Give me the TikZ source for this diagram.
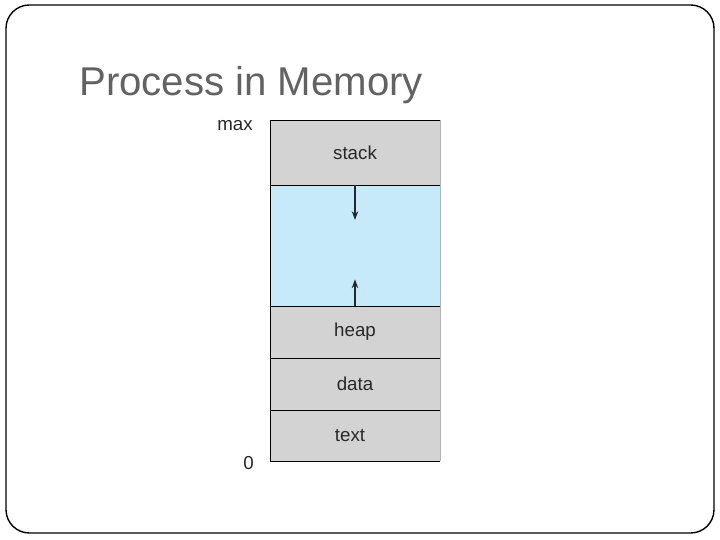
\documentclass[tikz,border=0pt]{standalone}
\usepackage{fontspec}
\setmainfont{Liberation Sans}
\usetikzlibrary{positioning,arrows.meta,calc}
\definecolor{segGray}{RGB}{211,211,211}
\definecolor{edgeGray}{RGB}{180,180,180}
\definecolor{freeBlue}{RGB}{199,234,250}
\definecolor{titleGray}{RGB}{98,98,98}
\definecolor{labelDark}{RGB}{40,40,40}

\begin{document}
\begin{tikzpicture}[x=0.03cm,y=-0.03cm,>={Stealth[length=7.5pt,width=5.5pt]},
  seg/.style={fill=segGray,minimum width=5.1cm,inner sep=0pt,outer sep=0pt,
    font=\fontsize{16}{19}\selectfont,text=labelDark},
  addr/.style={font=\fontsize{16}{19}\selectfont,text=labelDark,anchor=east,inner sep=0pt}]
\useasboundingbox (0,0) rectangle (720,540);
% slide frame
\draw[line width=1.2pt,rounded corners=0.7cm] (6,5) rectangle (714,533);
\node[anchor=base west,inner sep=0pt,text=titleGray,font=\fontsize{34.3}{40}\selectfont] (title) at (79,96) {Process in Memory};
% memory segments
\node[seg,anchor=north west,minimum height=1.95cm] (stack) at (270,120) {stack};
\node[seg,fill=freeBlue,below=0pt of stack,minimum height=3.63cm] (free) {};
\node[seg,below=0pt of free,minimum height=1.56cm] (heap) {heap};
\node[seg,below=0pt of heap,minimum height=1.56cm] (data) {data};
\node[seg,below=0pt of data,minimum height=1.53cm] (text) {text\hspace*{0.3cm}};
% outline
\draw[edgeGray,thin] (stack.north east) -- (text.south east);
\draw[thick] (stack.north east) -- (stack.north west) -- (text.south west) -- (text.south east);
\foreach \s in {stack,free,heap,data}
  \draw[thick] (\s.south west) -- (\s.south east);
% growth arrows
\coordinate[below=1.05cm of stack.south] (stackend);
\coordinate[above=0.8cm of heap.north] (heapend);
\draw[->,line width=1pt,labelDark] (stack.south) -- (stackend);
\draw[->,line width=1pt,labelDark] (heap.north) -- (heapend);
% addresses
\node[addr] (max) at (253,126) {max};
\node[addr] (zero) at (254,463) {0};
\end{tikzpicture}
\end{document}
